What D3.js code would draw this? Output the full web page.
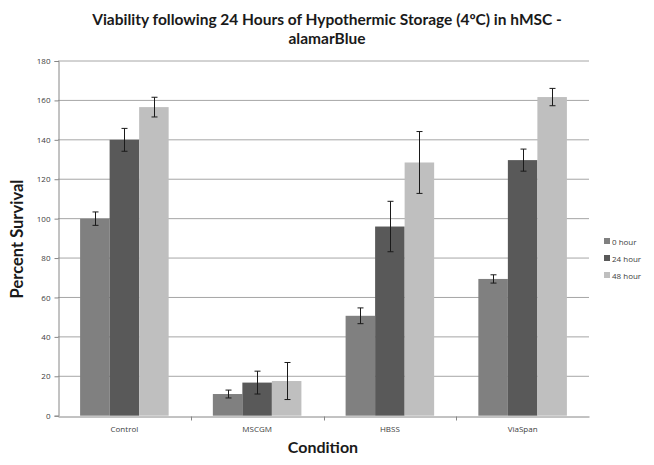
<!DOCTYPE html>
<html><head><meta charset="utf-8">
<script src="https://cdn.jsdelivr.net/npm/d3@7"></script>
<style>body{margin:0;background:#fff}svg{display:block}</style>
</head><body>
<svg id="c" width="654" height="465"></svg>
<script>
const categories = ["Control", "MSCGM", "HBSS", "ViaSpan"];
const seriesNames = ["0 hour", "24 hour", "48 hour"];
const values0 = [100, 11, 50.7, 69.4];
const values24 = [140, 16.8, 96, 129.7];
const values48 = [156.6, 17.6, 128.5, 161.7];
const errors0 = [3.4, 2, 4, 2.1];
const errors24 = [5.8, 5.8, 12.8, 5.6];
const errors48 = [5, 9.4, 15.7, 4.4];
const yTicks = [0, 20, 40, 60, 80, 100, 120, 140, 160, 180];
const colors = ["#808080", "#595959", "#bfbfbf"];

const values = [values0, values24, values48];
const errors = [errors0, errors24, errors48];

const svg = d3.select("#c");
const L = 58, R = 589, T = 61, B = 415.7;

const x = d3.scaleBand().domain(categories).range([L, R]).paddingInner(0.333).paddingOuter(0.1665);
const xs = d3.scaleBand().domain(seriesNames).range([0, x.bandwidth()]);
const y = d3.scaleLinear().domain([0, 180]).range([B, T]);

// gridlines
svg.append("g").selectAll("line").data(yTicks.filter(d => d > 0)).join("line")
  .attr("x1", L).attr("x2", R).attr("y1", d => y(d)).attr("y2", d => y(d))
  .attr("stroke", "#a6a6a6").attr("stroke-width", 1);

// bars
const data = [];
categories.forEach((c, i) => seriesNames.forEach((s, j) => data.push({c, s, j, v: values[j][i], e: errors[j][i]})));

svg.append("g").selectAll("rect").data(data).join("rect")
  .attr("x", d => x(d.c) + xs(d.s)).attr("width", xs.bandwidth())
  .attr("y", d => y(d.v)).attr("height", d => y(0) - y(d.v))
  .attr("fill", d => colors[d.j]);

// error bars
const eg = svg.append("g").attr("stroke", "#1a1a1a").attr("stroke-width", 1);
data.forEach(d => {
  const cx = Math.round(x(d.c) + xs(d.s) + xs.bandwidth() / 2) + 0.5;
  const y1 = y(d.v + d.e), y2 = y(d.v - d.e);
  eg.append("line").attr("x1", cx).attr("x2", cx).attr("y1", y1).attr("y2", y2);
  eg.append("line").attr("x1", cx - 3).attr("x2", cx + 3).attr("y1", y1).attr("y2", y1);
  eg.append("line").attr("x1", cx - 3).attr("x2", cx + 3).attr("y1", y2).attr("y2", y2);
});

// y axis
const yAxis = d3.axisLeft(y).tickValues(yTicks).tickSize(4).tickPadding(4);
const gy = svg.append("g").attr("transform", `translate(${L + 0.5},0)`).call(yAxis);
gy.select(".domain").attr("stroke", "#868686");
gy.selectAll(".tick line").attr("stroke", "#868686");
gy.selectAll("text").attr("font-family", "Open Sans, sans-serif").attr("font-size", 8).attr("fill", "#404040");

// x axis
const xAxis = d3.axisBottom(x).tickSize(0).tickPadding(10);
const gx = svg.append("g").attr("transform", `translate(0,${Math.round(B) + 0.5})`).call(xAxis);
gx.select(".domain").attr("stroke", "#868686");
gx.selectAll("text").attr("font-family", "Open Sans, sans-serif").attr("font-size", 8).attr("fill", "#404040");
// category boundary ticks
const bounds = categories.slice(1).map(c => x(c) - x.step() * x.paddingInner() / 2);
gx.selectAll(".bt").data(bounds).join("line").attr("class", "bt")
  .attr("x1", d => Math.round(d) + 0.5).attr("x2", d => Math.round(d) + 0.5)
  .attr("y1", 0).attr("y2", 4).attr("stroke", "#868686");

// title
const title = svg.append("text").attr("text-anchor", "middle")
  .attr("font-family", "Lato, sans-serif").attr("font-weight", "bold").attr("font-size", 15.5).attr("fill", "#1a1a1a");
title.append("tspan").attr("x", 327).attr("y", 24.5).text("Viability following 24 Hours of Hypothermic Storage (4ºC) in hMSC -");
title.append("tspan").attr("x", 327).attr("y", 44).text("alamarBlue");

// axis titles
svg.append("text").attr("transform", `translate(23,239) rotate(-90)`).attr("text-anchor", "middle")
  .attr("font-family", "Lato, sans-serif").attr("font-weight", "bold").attr("font-size", 16.5).attr("fill", "#1a1a1a")
  .text("Percent Survival");
svg.append("text").attr("x", 323).attr("y", 453).attr("text-anchor", "middle")
  .attr("font-family", "Lato, sans-serif").attr("font-weight", "bold").attr("font-size", 16).attr("fill", "#1a1a1a")
  .text("Condition");

// legend
const lg = svg.append("g").attr("transform", "translate(604,238)");
seriesNames.forEach((s, j) => {
  const g = lg.append("g").attr("transform", `translate(0,${j * 17})`);
  g.append("rect").attr("x", 0).attr("y", 0).attr("width", 6).attr("height", 6).attr("fill", colors[j]);
  g.append("text").attr("x", 8).attr("y", 6.5).attr("font-family", "Open Sans, sans-serif").attr("font-size", 8).attr("fill", "#404040").text(s);
});
</script>
</body></html>
